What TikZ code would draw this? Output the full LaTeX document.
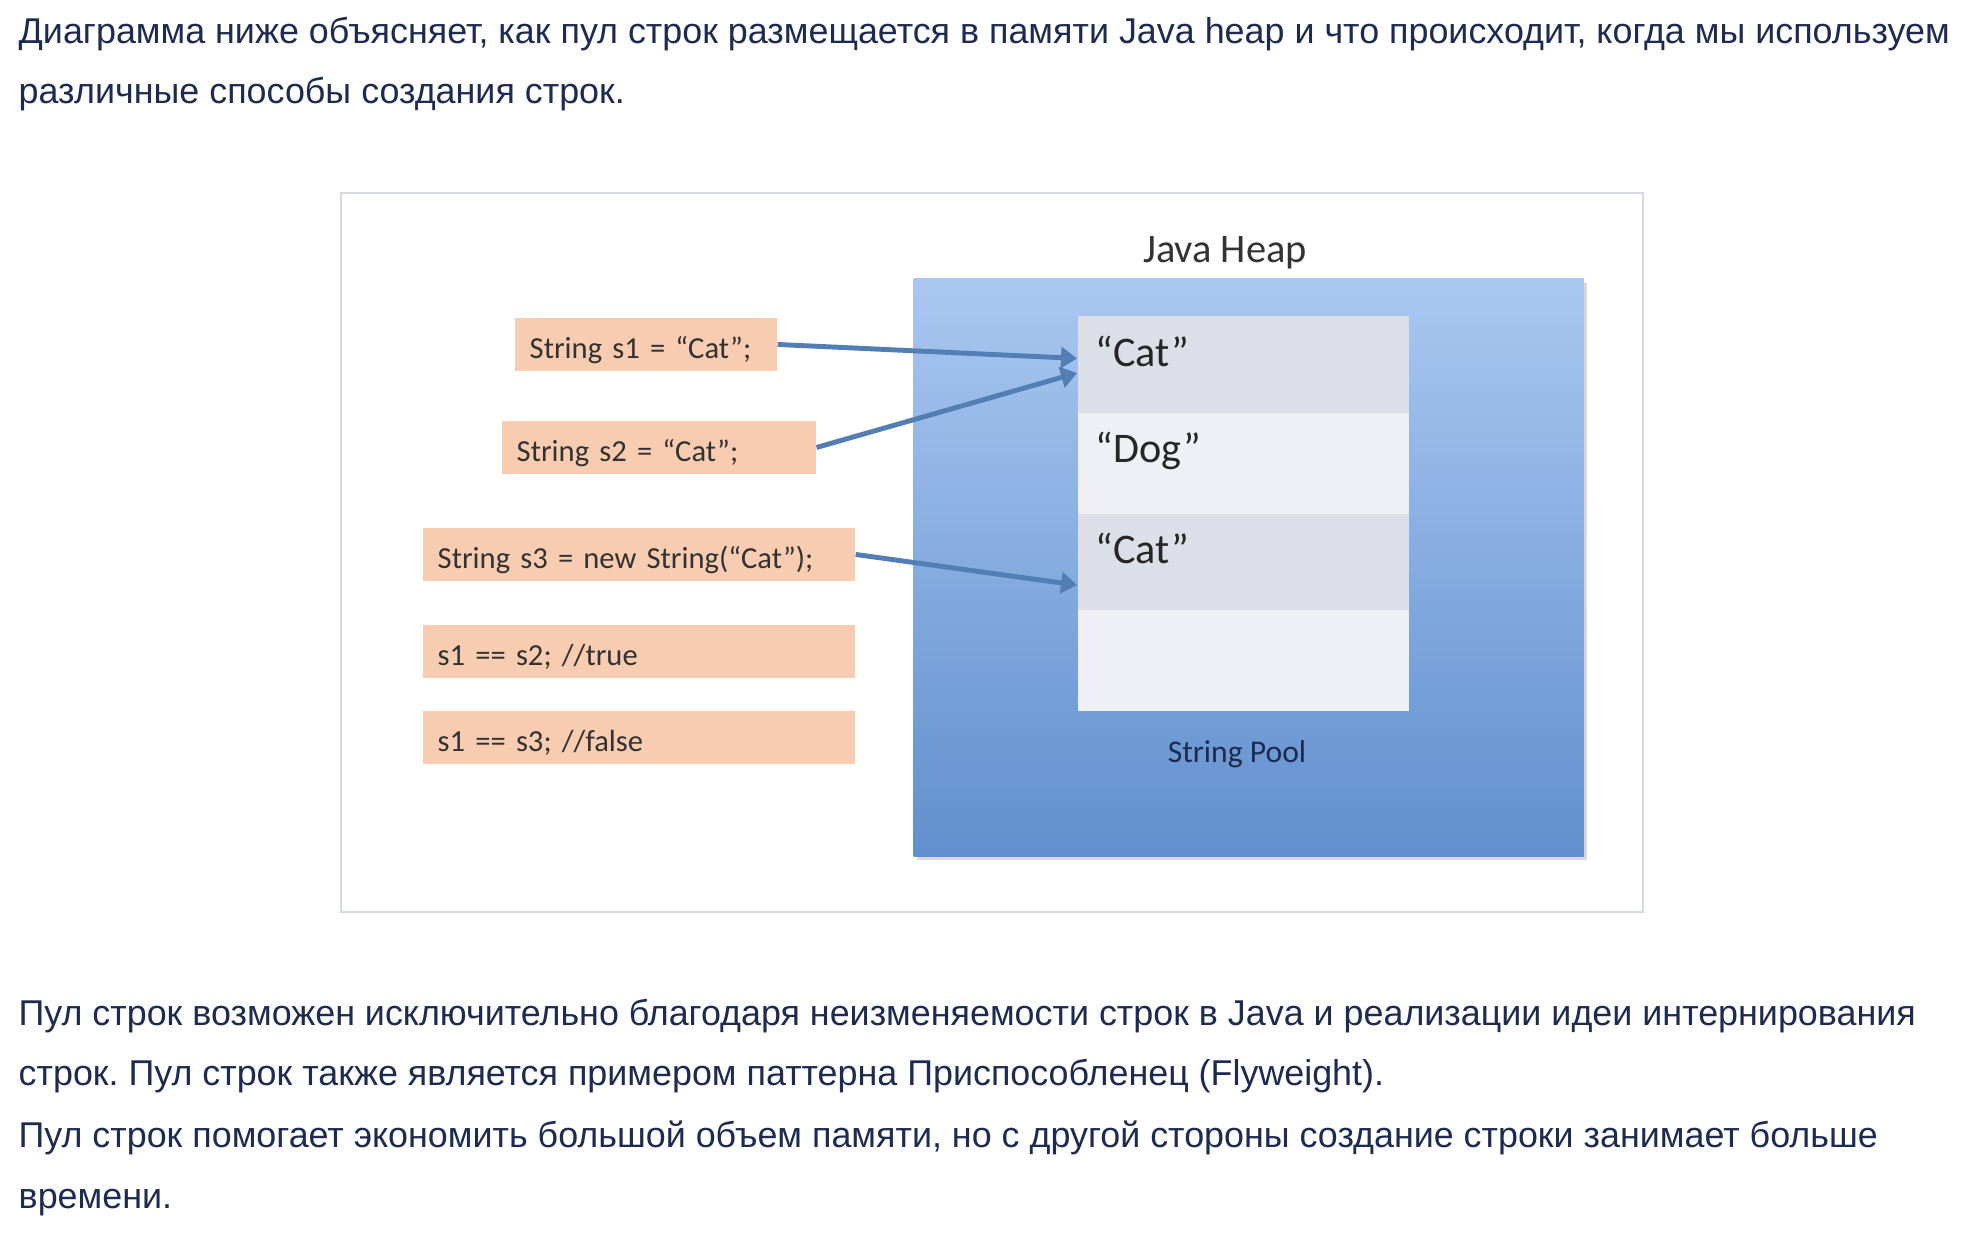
\documentclass[tikz,border=0pt]{standalone}
\usepackage{fontspec}
\setmainfont{Liberation Sans}
\newfontfamily\carlito{Carlito}
\usepackage{tikz}
\usetikzlibrary{arrows.meta,shadows}
\frenchspacing
\definecolor{cText}{RGB}{30,43,80}
\definecolor{cFrame}{RGB}{212,216,224}
\definecolor{cHeapTop}{RGB}{170,199,241}
\definecolor{cHeapBot}{RGB}{96,144,205}
\definecolor{cPoolDark}{RGB}{220,223,231}
\definecolor{cPoolLight}{RGB}{238,240,245}
\definecolor{cCode}{RGB}{247,204,177}
\definecolor{cCodeText}{RGB}{50,50,50}
\definecolor{cArrow}{RGB}{82,126,180}
\tikzset{
  para/.style={anchor=base west,inner sep=0pt,text=cText,font=\fontsize{10.2}{12}\selectfont},
  codebox/.style={anchor=north west,fill=cCode,text=cCodeText,font=\carlito\fontsize{8.7}{10}\selectfont,
    align=left,text width=#1,inner xsep=0.15cm,inner ysep=0pt,minimum height=0.535cm,
    text height=0.34cm,text depth=0.06cm},
  poolrow/.style={anchor=north west,fill=#1,minimum width=3.31cm,inner sep=0pt},
  poolstr/.style={anchor=base west,inner sep=0pt,text=black!85,font=\carlito\fontsize{12}{14}\selectfont},
  ref/.style={cArrow,line width=1.4pt,-{Triangle[length=0.16cm,width=0.21cm]}}
}
\begin{document}
\begin{tikzpicture}[x=0.01cm,y=-0.01cm]
\useasboundingbox (0,0) rectangle (1978,1234);
\node[para] (t1) at (18,44) {Диаграмма ниже объясняет, как пул строк размещается в памяти Java heap и что происходит, когда мы используем};
\node[para] (t2) at (18,104) {различные способы создания строк.};
\draw[cFrame,line width=0.6pt] (341,193) rectangle (1643,912);
\node[anchor=base,inner sep=0pt,text=black!80,font=\carlito\fontsize{11.5}{14}\selectfont] (title) at (1225,263) {Java Heap};
\node[anchor=north west,top color=cHeapTop,bottom color=cHeapBot,minimum width=6.70cm,minimum height=5.77cm,
  inner sep=0pt,drop shadow={opacity=0.3,shadow xshift=0.03cm,shadow yshift=-0.04cm}] (heap) at (913,278) {};
\node[poolrow=cPoolDark,minimum height=0.97cm] (c1) at (1077,315) {};
\node[poolrow=cPoolLight,minimum height=1.01cm] (d1) at (1077,412) {};
\node[poolrow=cPoolDark,minimum height=0.96cm] (c2) at (1077,513) {};
\node[poolrow=cPoolLight,minimum height=1.01cm] (e1) at (1077,609) {};
\node[poolstr] (c1t) at ([xshift=0.18cm,yshift=-0.51cm]c1.north west) {“Cat”};
\node[poolstr] (d1t) at ([xshift=0.18cm,yshift=-0.50cm]d1.north west) {“Dog”};
\node[poolstr] (c2t) at ([xshift=0.18cm,yshift=-0.50cm]c2.north west) {“Cat”};
\node[anchor=base,inner sep=0pt,text=cText,font=\carlito\fontsize{9}{11}\selectfont] (pool) at (1237,763) {String Pool};
\node[codebox=2.32cm] (s1) at (514,317) {String s1 = “Cat”;};
\node[codebox=2.84cm] (s2) at (501,420) {String s2 = “Cat”;};
\node[codebox=4.02cm] (s3) at (422,527) {String s3 = new String(“Cat”);};
\node[codebox=4.02cm] (eq1) at (422,624) {s1 == s2; //true};
\node[codebox=4.02cm] (eq2) at (422,710) {s1 == s3; //false};
\draw[ref] (s1.east) -- (c1.178);
\draw[ref] (s2.east) -- (c1.183);
\draw[ref] (s3.east) -- (c2.188);
\node[para] (b1) at (18,1025) {Пул строк возможен исключительно благодаря неизменяемости строк в Java и реализации идеи интернирования};
\node[para] (b2) at (18,1086) {строк. Пул строк также является примером паттерна Приспособленец (Flyweight).};
\node[para] (b3) at (18,1147) {Пул строк помогает экономить большой объем памяти, но с другой стороны создание строки занимает больше};
\node[para] (b4) at (18,1208) {времени.};
\end{tikzpicture}
\end{document}
